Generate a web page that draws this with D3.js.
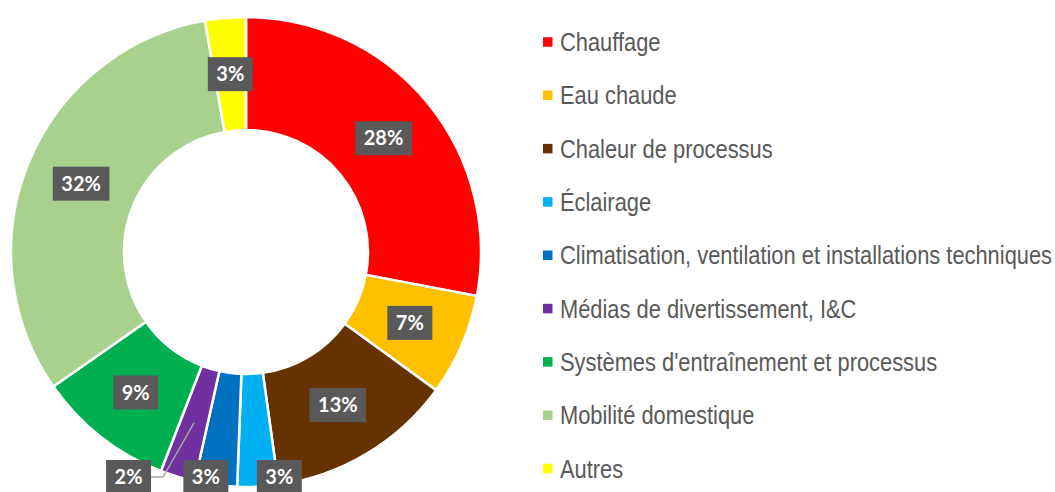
<!DOCTYPE html>
<html>
<head>
<meta charset="utf-8">
<script src="https://cdn.jsdelivr.net/npm/d3@7"></script>
<style>
  html, body { margin: 0; padding: 0; background: #ffffff; }
  svg { display: block; }
</style>
</head>
<body>
<script>
// Data
const CATEGORIES = [
  'Chauffage',
  'Eau chaude',
  'Chaleur de processus',
  'Éclairage',
  'Climatisation, ventilation et installations techniques',
  'Médias de divertissement, I&C',
  "Systèmes d'entraînement et processus",
  'Mobilité domestique',
  'Autres'
];
const VALUES = [28.0, 7.0, 12.8, 2.8, 2.9, 2.4, 9.4, 31.9, 2.8];
const COLORS = ['#FF0000', '#FFC000', '#663300', '#00B0F0', '#0070C0', '#7030A0', '#00B050', '#A9D18E', '#FFFF00'];

// Dimensions
const WIDTH  = 1055;
const HEIGHT = 492;
const CX = 246, CY = 252;
const R_OUT = 235, R_IN = 122;

const LABEL_BG = '#595959';
const TEXT_FG  = '#595959';

const data = CATEGORIES.map((c, i) => ({ cat: c, value: VALUES[i], color: COLORS[i] }));

const svg = d3.select('body').append('svg')
  .attr('width', WIDTH)
  .attr('height', HEIGHT);

svg.append('rect')
  .attr('width', WIDTH)
  .attr('height', HEIGHT)
  .attr('fill', '#ffffff');

// Donut
const pie = d3.pie().sort(null).value(d => d.value);
const arc = d3.arc().innerRadius(R_IN).outerRadius(R_OUT);
const arcs = pie(data);

const g = svg.append('g').attr('transform', `translate(${CX},${CY})`);

g.selectAll('path.slice')
  .data(arcs)
  .join('path')
  .attr('class', 'slice')
  .attr('d', arc)
  .attr('fill', d => d.data.color)
  .attr('stroke', '#ffffff')
  .attr('stroke-width', 2.5);

// Labels: small slices at the bottom are pushed below the ring, like Excel does
const bottomShift = {
  'Éclairage': 22,
  'Climatisation, ventilation et installations techniques': -11,
  'Médias de divertissement, I&C': -49
};

const pct = d3.format('.0f');

arcs.forEach(d => {
  const c = arc.centroid(d);
  let pos = c.slice();
  const shift = bottomShift[d.data.cat];
  if (shift !== undefined) {
    const mid = (d.startAngle + d.endAngle) / 2;
    const yb = R_OUT - 10;
    pos = [-Math.tan(mid - Math.PI) * yb + shift, yb];
  }
  d.labelPos = pos;
  d.centroid = c;
});

const labels = g.selectAll('g.lbl')
  .data(arcs)
  .join('g')
  .attr('class', 'lbl')
  .attr('transform', d => `translate(${d.labelPos[0]},${d.labelPos[1]})`);

labels.append('rect').attr('fill', LABEL_BG);

labels.append('text')
  .attr('text-anchor', 'middle')
  .attr('dy', '0.36em')
  .attr('font-family', 'Lato, sans-serif')
  .attr('font-weight', 700)
  .attr('font-size', '20px')
  .attr('fill', '#ffffff')
  .text(d => pct(d.data.value) + '%');

labels.each(function() {
  const t = d3.select(this).select('text').node();
  const w = t.getComputedTextLength() + 17;
  const h = 34;
  d3.select(this).select('rect')
    .attr('x', -w / 2).attr('y', -h / 2)
    .attr('width', w).attr('height', h);
  d3.select(this).datum().boxW = w;
});

// Leader lines for labels that ended up far from their slice
arcs.forEach(d => {
  const dx = d.labelPos[0] - d.centroid[0];
  const dy = d.labelPos[1] - d.centroid[1];
  if (Math.hypot(dx, dy) > 60) {
    const edge = d.labelPos[0] + d.boxW / 2;
    const line = d3.line();
    g.insert('path', 'g.lbl')
      .attr('d', line([d.centroid, [edge + 12, d.labelPos[1]], [edge, d.labelPos[1]]]))
      .attr('fill', 'none')
      .attr('stroke', '#a6a6a6')
      .attr('stroke-width', 1.5);
  }
});

// Legend
const ly = d3.scalePoint()
  .domain(CATEGORIES)
  .range([42, 468.5]);

const legend = svg.append('g').attr('class', 'legend');

const item = legend.selectAll('g')
  .data(data)
  .join('g')
  .attr('transform', d => `translate(543,${ly(d.cat)})`);

item.append('rect')
  .attr('x', 0)
  .attr('y', -4.75)
  .attr('width', 9.5)
  .attr('height', 9.5)
  .attr('fill', d => d.color);

item.append('text')
  .attr('transform', 'translate(17,0) scale(0.875,1)')
  .attr('dy', '0.36em')
  .attr('font-family', "'Liberation Sans', Arial, sans-serif")
  .attr('font-size', '25px')
  .attr('fill', TEXT_FG)
  .text(d => d.cat);
</script>
</body>
</html>
